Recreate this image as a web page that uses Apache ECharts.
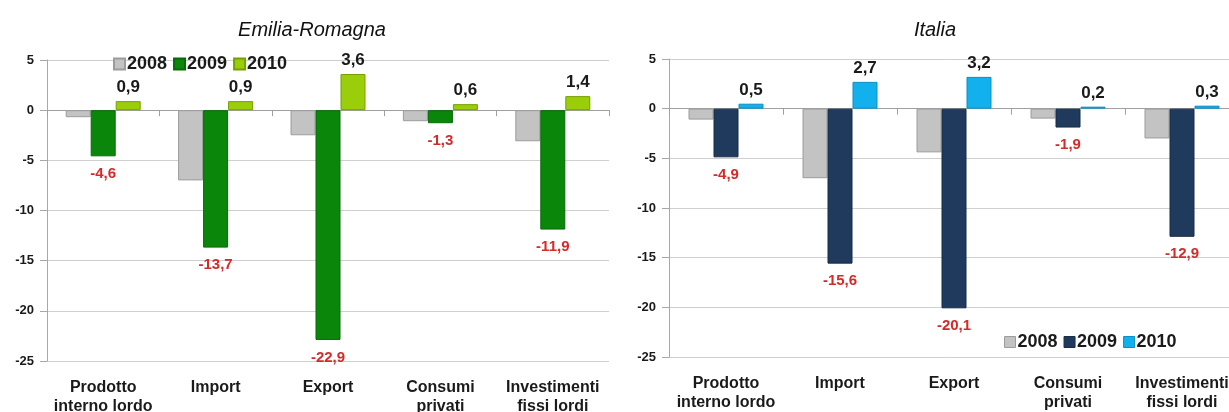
<!DOCTYPE html>
<html><head><meta charset="utf-8">
<script src="https://cdn.jsdelivr.net/npm/echarts@6/dist/echarts.min.js"></script>
<style>html,body{margin:0;padding:0;background:#fff}#c{width:1229px;height:412px}</style>
</head><body><div id="c"></div>
<script>
const categories = ['Prodotto\ninterno lordo','Import','Export','Consumi\nprivati','Investimenti\nfissi lordi'];
const years = ['2008','2009','2010'];
const yTicks = [-25,-20,-15,-10,-5,0,5];
const er2008 = [-0.7,-7.0,-2.5,-1.1,-3.1];
const er2009 = [-4.6,-13.7,-22.9,-1.3,-11.9];
const er2010 = [0.9,0.9,3.6,0.6,1.4];
const it2008 = [-1.1,-7.0,-4.4,-1.0,-3.0];
const it2009 = [-4.9,-15.6,-20.1,-1.9,-12.9];
const it2010 = [0.5,2.7,3.2,0.2,0.3];

const FONT = 'Arial, "Liberation Sans", sans-serif';
const fmt = p => String(p.value.toFixed(1)).replace('.', ',');
const grids = [
  {left:47, top:60, width:562, height:301, outerBoundsMode:'none', containLabel:false},
  {left:669, top:59, width:570, height:298, outerBoundsMode:'none', containLabel:false}
];
const colors = [
  [['#c3c3c3','#9c9c9c'],['#0a860a','#076a07'],['#9acd0a','#76a000']],
  [['#c3c3c3','#9c9c9c'],['#1f3a5c','#172d48'],['#12b1ee','#0b8fc2']]
];
const data = [[er2008,er2009,er2010],[it2008,it2009,it2010]];

const xAxis = [], yAxis = [], series = [];
grids.forEach((g,i)=>{
  xAxis.push({type:'category', gridIndex:i, data:categories, position:'bottom',
    axisLine:{show:false, onZero:false}, axisTick:{show:false},
    axisLabel:{interval:0, margin:17, fontFamily:FONT, fontSize:16, fontWeight:'bold', color:'#1a1a1a', lineHeight:19}});
  xAxis.push({type:'category', gridIndex:i, data:categories, position:'top',
    axisLine:{show:true, onZero:true, lineStyle:{color:'#a0a0a0', width:1}},
    axisTick:{show:true, inside:true, length:6, lineStyle:{color:'#a0a0a0'}},
    axisLabel:{show:false}});
  yAxis.push({type:'value', gridIndex:i, min:yTicks[0], max:yTicks[yTicks.length-1], interval:5,
    axisLine:{show:true, onZero:false, lineStyle:{color:'#a8a8a8'}},
    axisTick:{show:true, length:7, lineStyle:{color:'#a8a8a8'}},
    splitLine:{show:true, lineStyle:{color:'#cfcfcf', width:1}},
    axisLabel:{margin:13, fontFamily:FONT, fontSize:13, fontWeight:'bold', color:'#1a1a1a'}});
  years.forEach((y,k)=>{
    const s = {type:'bar', name:y, xAxisIndex:i*2, yAxisIndex:i, data:data[i][k],
      barWidth:25, barGap:'0%',
      itemStyle:{color:colors[i][k][0], borderColor:colors[i][k][1], borderWidth:1},
      emphasis:{disabled:true}};
    if (k===1) s.label = {show:true, position:'bottom', distance:10, formatter:fmt,
      fontFamily:FONT, fontSize:15, fontWeight:'bold', color:'#d42a2a'};
    if (k===2) s.label = {show:true, position:'top', distance:5, formatter:fmt,
      fontFamily:FONT, fontSize:17, fontWeight:'bold', color:'#1a1a1a'};
    series.push(s);
  });
});

const legendText = {fontFamily:FONT, fontSize:18, fontWeight:'bold', color:'#1a1a1a', padding:[0,0,0,-3]};
const chart = echarts.init(document.getElementById('c'), null, {renderer:'canvas'});
chart.setOption({
  animation:false,
  title:[
    {text:'Emilia-Romagna', left:307, top:15, textAlign:'center',
      textStyle:{fontFamily:FONT, fontSize:20, fontStyle:'italic', fontWeight:'normal', color:'#111'}},
    {text:'Italia', left:930, top:15, textAlign:'center',
      textStyle:{fontFamily:FONT, fontSize:20, fontStyle:'italic', fontWeight:'normal', color:'#111'}}
  ],
  legend:[
    {data:years.map(y=>({name:y})), left:108, top:50, itemWidth:11, itemHeight:11, itemGap:6,
      icon:'rect', selectedMode:false, textStyle:legendText},
    {data:years.map((y,k)=>({name:y, itemStyle:{color:colors[1][k][0], borderColor:colors[1][k][1], borderWidth:1}})),
      left:999, top:328, itemWidth:11, itemHeight:11, itemGap:6,
      icon:'rect', selectedMode:false, textStyle:legendText}
  ],
  grid:grids,
  xAxis, yAxis, series
});
</script></body></html>
